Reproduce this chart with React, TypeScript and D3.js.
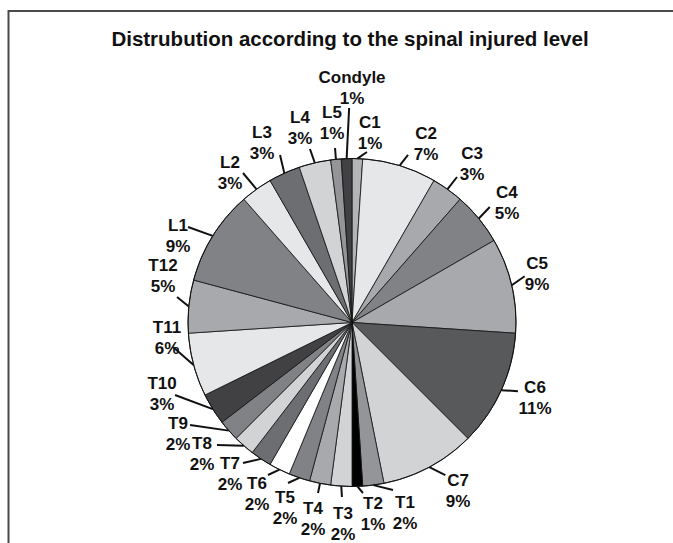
import React from 'react';
import * as d3 from 'd3';

const title = 'Distrubution according to the spinal injured level';

const categories = [
  'C1', 'C2', 'C3', 'C4', 'C5', 'C6', 'C7',
  'T1', 'T2', 'T3', 'T4', 'T5', 'T6', 'T7', 'T8', 'T9', 'T10', 'T11', 'T12',
  'L1', 'L2', 'L3', 'L4', 'L5', 'Condyle',
];
const percents = [
  1, 7, 3, 5, 9, 11, 9,
  2, 1, 2, 2, 2, 2, 2, 2, 2, 3, 6, 5,
  9, 3, 3, 3, 1, 1,
];

// slice greys, same order as categories
const fills = [
  '#b3b4b6', '#e6e7e8', '#a7a9ac', '#808285', '#a7a9ac', '#58595b', '#d1d3d4',
  '#939598', '#000000', '#d1d3d4', '#a7a9ac', '#808285', '#ffffff', '#6d6e71',
  '#d1d3d4', '#808285', '#414042', '#e6e7e8', '#a7a9ac',
  '#808285', '#e6e7e8', '#6d6e71', '#d1d3d4', '#939598', '#414042',
];

// label layout: [line end dx, dy, text dx, dy] from the slice's outer mid point
const labelLayout: number[][] = [
  [9.6, -6.6, 12.6, -36.6],
  [8.4, -10.6, 26.4, -32.6],
  [9.5, -12.2, 24.5, -36.2],
  [11, -11.5, 28.2, -26.5],
  [13, -9, 25.3, -22.3],
  [16.6, 1, 33.6, -3.2],
  [16, 8, 28.7, 12.9],
  [19.6, 4.9, 31.6, 16.9],
  [5.6, 6.6, 15.6, 16.6],
  [0.7, 10.8, 1.7, 26.8],
  [-2, 9.6, -7, 24.6],
  [-11.3, 5.2, -14.3, 19.2],
  [-11.5, 5.4, -22.5, 13.4],
  [-17.9, 4.1, -30.9, 4.1],
  [-26.9, -0.8, -41.9, -2.8],
  [-38.7, -5.6, -50.7, -7.6],
  [-37.7, -14.1, -50.7, -26.1],
  [-20.6, -18, -26.6, -38],
  [-11.8, -9.4, -25.8, -41.4],
  [-24.7, -8.9, -34.7, -10.9],
  [-13.5, -16.2, -26.5, -27.2],
  [-4.3, -18.1, -22.3, -41.1],
  [-4.8, -13.8, -14.8, -45.8],
  [-0.9, -11.3, -3.9, -47.3],
  [2.5, -50.6, 5.4, -81.6],
];

const width = 673;
const height = 543;
const cx = 352;
const cy = 322.5;
const radius = 164;
const font = '"Liberation Sans", Arial, Helvetica, sans-serif';

type Slice = { name: string; value: number; i: number };

const App = () => {
  const data: Slice[] = categories.map((name, i) => ({ name, value: percents[i], i }));
  const pie = d3
    .pie<Slice>()
    .sort(null)
    .value((d) => d.value)
    .startAngle(0)
    .endAngle(2 * Math.PI);
  const arcs = pie(data);
  const arc = d3.arc<d3.PieArcDatum<Slice>>().innerRadius(0).outerRadius(radius);
  const edge = d3.arc<d3.PieArcDatum<Slice>>().innerRadius(radius).outerRadius(radius);

  return (
    <svg
      width={width}
      height={height}
      style={{ position: 'absolute', left: 0, top: 0, background: '#fff' }}
    >
      <rect x={8.5} y={11} width={700} height={600} fill="#fff" stroke="#4a4a4a" strokeWidth={2} />
      <text
        x={350}
        y={46}
        textAnchor="middle"
        fontFamily={font}
        fontSize={20.5}
        fontWeight="bold"
        fill="#111"
      >
        {title}
      </text>
      <g transform={`translate(${cx},${cy})`}>
        {arcs.map((a) => (
          <path
            key={a.data.name}
            d={arc(a) || ''}
            fill={fills[a.data.i]}
            stroke="#111"
            strokeWidth={0.8}
            strokeLinejoin="round"
          />
        ))}
        <circle r={radius} fill="none" stroke="#111" strokeWidth={1} />
        {arcs.map((a) => {
          const [ex, ey] = edge.centroid(a);
          const [lx, ly, tx, ty] = labelLayout[a.data.i];
          return (
            <g key={`l-${a.data.name}`}>
              <line
                x1={ex}
                y1={ey}
                x2={ex + lx}
                y2={ey + ly}
                stroke="#111"
                strokeWidth={2}
              />
              <text
                x={ex + tx}
                y={ey + ty}
                textAnchor="middle"
                dy="0.36em"
                fontFamily={font}
                fontSize={17}
                fontWeight="bold"
                fill="#111"
              >
                {a.data.name}
              </text>
              <text
                x={ex + tx}
                y={ey + ty + 21}
                textAnchor="middle"
                dy="0.36em"
                fontFamily={font}
                fontSize={17}
                fontWeight="bold"
                fill="#111"
              >
                {`${a.data.value}%`}
              </text>
            </g>
          );
        })}
      </g>
    </svg>
  );
};

export default App;
